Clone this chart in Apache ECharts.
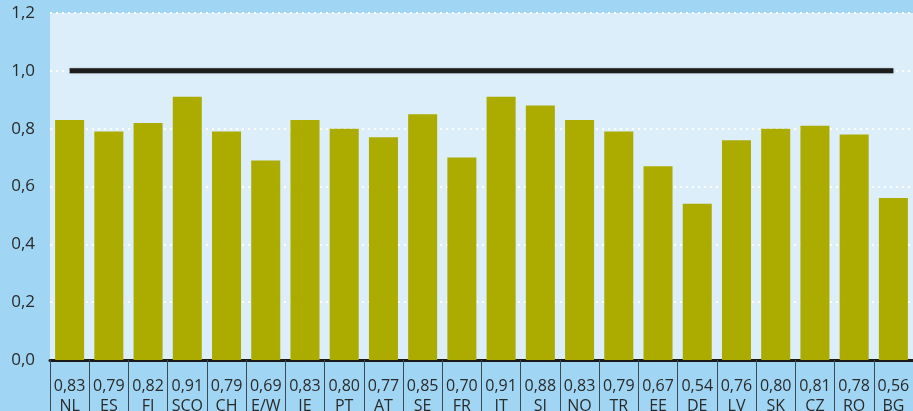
<!DOCTYPE html>
<html>
<head>
<meta charset="utf-8">
<script src="https://cdn.jsdelivr.net/npm/echarts@6/dist/echarts.min.js"></script>
<style>
  html, body { margin: 0; padding: 0; background: #a0d6f4; }
  #chart { width: 913px; height: 411px; }
</style>
</head>
<body>
<div id="chart"></div>
<script>
const countries = ['NL', 'ES', 'FI', 'SCO', 'CH', 'E/W', 'IE', 'PT', 'AT', 'SE', 'FR', 'IT', 'SI', 'NO', 'TR', 'EE', 'DE', 'LV', 'SK', 'CZ', 'RO', 'BG']
const ratios = [0.83, 0.79, 0.82, 0.91, 0.79, 0.69, 0.83, 0.80, 0.77, 0.85, 0.70, 0.91, 0.88, 0.83, 0.79, 0.67, 0.54, 0.76, 0.80, 0.81, 0.78, 0.56]
const reference = countries.map(() => 1.0)

const comma = v => v.toFixed(2).replace('.', ',')

let chart = echarts.init(document.getElementById('chart'))
chart.setOption({
    backgroundColor: '#a0d6f4',
    textStyle: { fontFamily: 'Open Sans' },
    grid: {
        left: 50,
        right: 0,
        top: 13,
        bottom: 51,
        outerBoundsMode: 'none',
        containLabel: false,
        show: true,
        backgroundColor: '#ddeefb',
        borderWidth: 0
    },
    xAxis: {
        type: 'category',
        data: countries,
        axisLine: { lineStyle: { color: '#1a1a1a', width: 3 } },
        axisTick: { show: true, length: 60, lineStyle: { color: '#3a4a55', width: 1 } },
        axisLabel: {
            interval: 0,
            margin: 16,
            color: '#2a2a2a',
            fontSize: 16,
            lineHeight: 20,
            formatter: (name, i) => comma(ratios[i]) + '\n' + name
        }
    },
    yAxis: {
        type: 'value',
        min: 0,
        max: 1.2,
        interval: 0.2,
        axisLine: { show: false },
        axisTick: { show: false },
        axisLabel: {
            margin: 15,
            color: '#2a2a2a',
            fontSize: 17,
            formatter: v => v.toFixed(1).replace('.', ',')
        },
        splitLine: { lineStyle: { color: '#ffffff', width: 2, type: [2, 4] } }
    },
    series: [{
        type: 'bar',
        data: ratios,
        barCategoryGap: '26%',
        itemStyle: { color: '#abab00' },
        z: 2
    }, {
        type: 'line',
        data: reference,
        symbol: 'none',
        lineStyle: {
            color: '#1c1c1c',
            width: 5,
            shadowColor: 'rgba(60,60,60,0.35)',
            shadowBlur: 2
        },
        z: 3
    }]
})
</script>
</body>
</html>
